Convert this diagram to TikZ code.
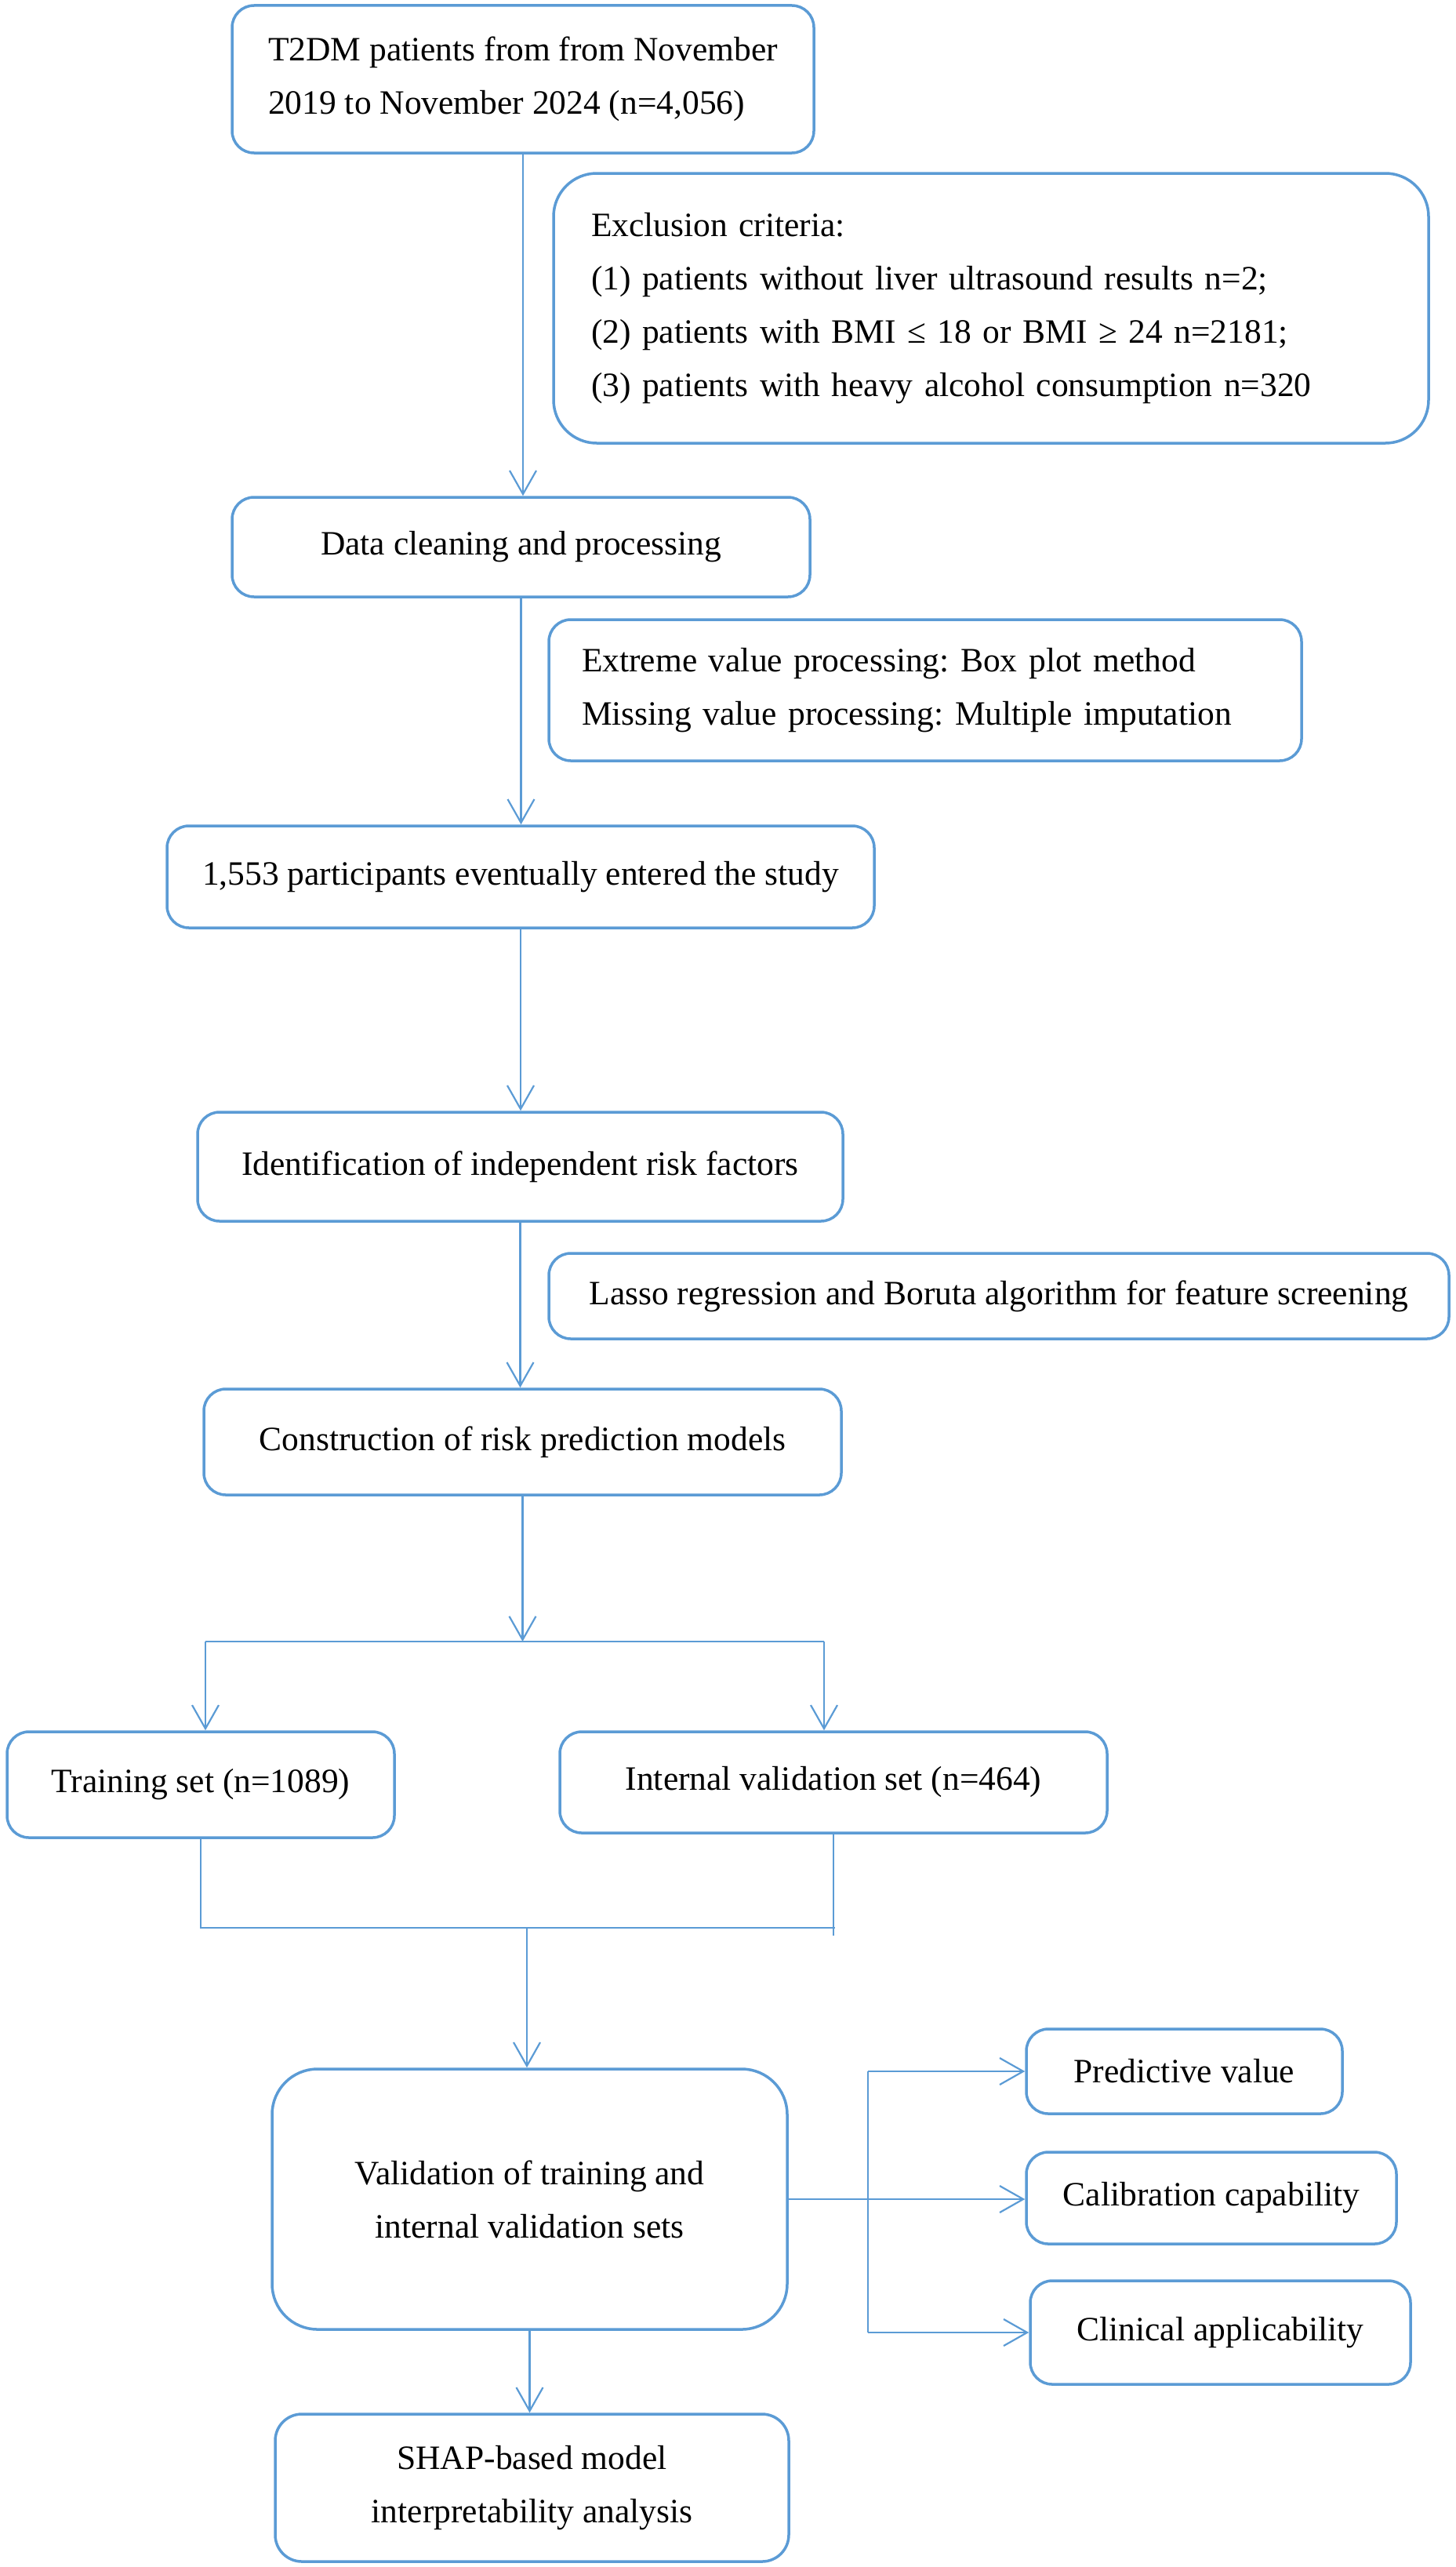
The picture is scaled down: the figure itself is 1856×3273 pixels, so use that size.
\documentclass[tikz,border=0pt]{standalone}
\usepackage{fontspec}
\setmainfont{Liberation Serif}
\usetikzlibrary{arrows.meta,calc}
\definecolor{fblue}{RGB}{91,155,213}
\frenchspacing
\begin{document}
\begin{tikzpicture}[x=1pt,y=-1pt,
  flowbox/.style={draw=fblue, line width=3.5pt, rounded corners=28pt, inner sep=0pt,
    align=center, font=\fontsize{43.5}{68}\selectfont},
  conn/.style={draw=fblue, line width=2.2pt},
  arr/.style={conn, -{Straight Barb[length=30pt,width=34pt]}}]
\useasboundingbox (0,0) rectangle (1856,3273);

\node[flowbox, align=left, minimum width=742pt, minimum height=188pt] (t2dm) at (667,101)
  {T2DM patients from from November\\2019 to November 2024 (n=4,056)};
\node[flowbox, rounded corners=55pt, minimum height=344pt, text width=1020pt, inner xsep=48pt, align=left] (excl) at (1264,393)
  {Exclusion criteria:\\(1) patients without liver ultrasound results n=2;\\(2) patients with BMI ≤ 18 or BMI ≥ 24 n=2181;\\(3) patients with heavy alcohol consumption n=320};
\node[flowbox, minimum width=737pt, minimum height=127pt] (data) at (664.5,697.5)
  {Data cleaning and processing};
\node[flowbox, minimum height=180pt, text width=876pt, inner xsep=42pt, align=left] (extr) at (1180,880)
  {Extreme value processing: Box plot method\\Missing value processing: Multiple imputation};
\node[flowbox, minimum width=902pt, minimum height=130pt] (part) at (664,1118)
  {1,553 participants eventually entered the study};
\node[flowbox, minimum width=823pt, minimum height=139pt] (ident) at (663.5,1487.5)
  {Identification of independent risk factors};
\node[flowbox, minimum width=1148pt, minimum height=109pt] (lasso) at (1274,1652.5)
  {Lasso regression and Boruta algorithm for feature screening};
\node[flowbox, minimum width=813pt, minimum height=135pt] (constr) at (666.5,1838.5)
  {Construction of risk prediction models};
\node[flowbox, minimum width=494pt, minimum height=135pt] (train) at (256,2275.5)
  {Training set (n=1089)};
\node[flowbox, minimum width=698pt, minimum height=129pt] (intv) at (1063,2272.5)
  {Internal validation set (n=464)};
\node[flowbox, rounded corners=58pt, minimum width=657pt, minimum height=332pt] (valid) at (675.5,2804)
  {Validation of training and\\internal validation sets};
\node[flowbox, minimum width=403pt, minimum height=108pt] (pred) at (1510.5,2641)
  {Predictive value};
\node[flowbox, minimum width=472pt, minimum height=117pt] (calib) at (1545,2802.5)
  {Calibration capability};
\node[flowbox, minimum width=485pt, minimum height=132pt] (clin) at (1556.5,2974)
  {Clinical applicability};
\node[flowbox, rounded corners=34pt, minimum width=655pt, minimum height=188pt] (shap) at (678.5,3172)
  {SHAP-based model\\interpretability analysis};

% main vertical flow
\draw[arr] (t2dm.south) -- (t2dm.south |- data.north);
\draw[arr] (data.south) -- (data.south |- part.north);
\draw[arr] (part.south) -- (part.south |- ident.north);
\draw[arr] (ident.south) -- (ident.south |- constr.north);

% split
\coordinate (sp) at (666,2093);
\coordinate (spL) at (262,2093);
\coordinate (spR) at (1051,2093);
\draw[arr] (constr.south) -- (constr.south |- sp);
\draw[conn] (spL) -- (spR);
\draw[arr] (spL) -- (spL |- train.north);
\draw[arr] (spR) -- (spR |- intv.north);

% merge
\coordinate (mL) at (256,2458);
\coordinate (mR) at (1065,2458);
\coordinate (mC) at (672,2458);
\coordinate (mRend) at (1063,2468);
\draw[conn] (train.south) -- (train.south |- mL) -- (mR);
\draw[conn] (intv.south) -- (intv.south |- mRend);
\draw[arr] (mC) -- (mC |- valid.north);

% right branch
\coordinate (bx) at (1107,2641);
\draw[conn] (bx |- pred.west) -- (bx |- clin.west);
\draw[arr] (bx |- pred.west) -- (pred.west);
\draw[arr] (valid.east) -- (valid.east -| calib.west);
\draw[arr] (bx |- clin.west) -- (clin.west);

% to SHAP
\draw[arr] (valid.south) -- (valid.south |- shap.north);
\end{tikzpicture}
\end{document}
